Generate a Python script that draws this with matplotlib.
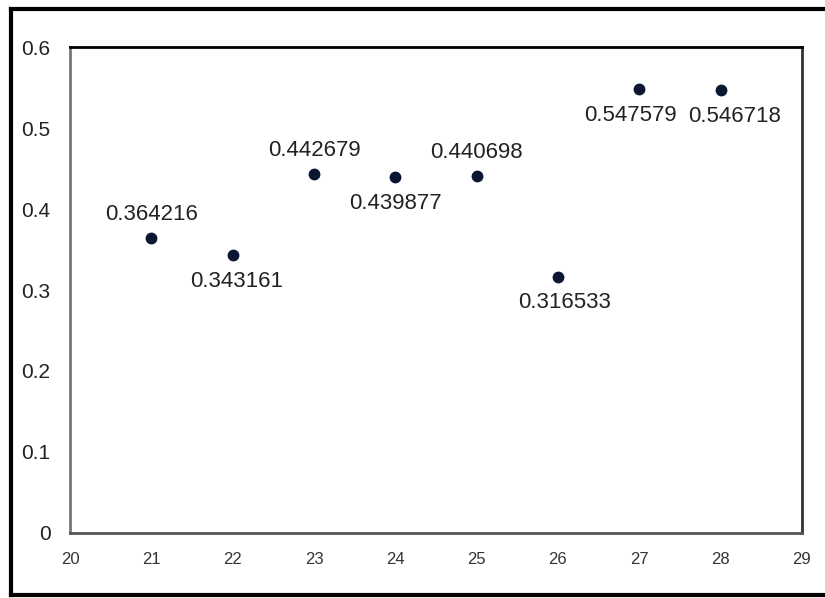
import matplotlib.pyplot as plt
from matplotlib.lines import Line2D

# data
x_vals = [21, 22, 23, 24, 25, 26, 27, 28]
y_vals = [0.364216, 0.343161, 0.442679, 0.439877, 0.440698, 0.316533, 0.547579, 0.546718]
label_above = [True, False, True, False, True, False, False, False]
label_shift = [0, 3, 0, 0, 0, 5, -6, 10]  # horizontal nudge of labels, points

plt.rcParams['font.family'] = ['Liberation Sans', 'DejaVu Sans']

fig = plt.figure(figsize=(8.25, 5.98), dpi=100)
ax = fig.add_axes([0.0848, 0.1087, 0.8872, 0.8127])

ax.plot(x_vals, y_vals, 'o', color='#0b1633', markersize=7.5, linestyle='none')

for x, y, above, dx in zip(x_vals, y_vals, label_above, label_shift):
    offset = 17 if above else -19
    ax.annotate(f'{y:g}', (x, y), xytext=(dx, offset), textcoords='offset points',
                ha='center', va='center', fontsize=16, color='#222222')

ax.set_xlim(20, 29)
ax.set_ylim(0, 0.6)
ax.set_xticks(range(20, 30))
ax.set_yticks([0, 0.1, 0.2, 0.3, 0.4, 0.5, 0.6])
ax.set_yticklabels(['0', '0.1', '0.2', '0.3', '0.4', '0.5', '0.6'])
ax.tick_params(axis='x', length=0, pad=14, labelsize=12, labelcolor='#333333')
ax.tick_params(axis='y', length=0, pad=14, labelsize=15, labelcolor='#222222')

ax.spines['top'].set_color('black')
ax.spines['right'].set_color('#333333')
ax.spines['left'].set_color('#777777')
ax.spines['bottom'].set_color('#555555')
for s in ax.spines.values():
    s.set_linewidth(2)

# outer frame around the picture (no right side in the original)
W, H = 825, 598
frame = dict(color='black', linewidth=3, transform=fig.transFigure)
fig.add_artist(Line2D([11 / W, 1], [1 - 8.5 / H, 1 - 8.5 / H], **frame))
fig.add_artist(Line2D([11 / W, 11 / W], [1 - 8.5 / H, 1 - 595 / H], **frame))
fig.add_artist(Line2D([11 / W, 1], [1 - 595 / H, 1 - 595 / H], **frame))

fig.savefig('out.png', dpi=100)
